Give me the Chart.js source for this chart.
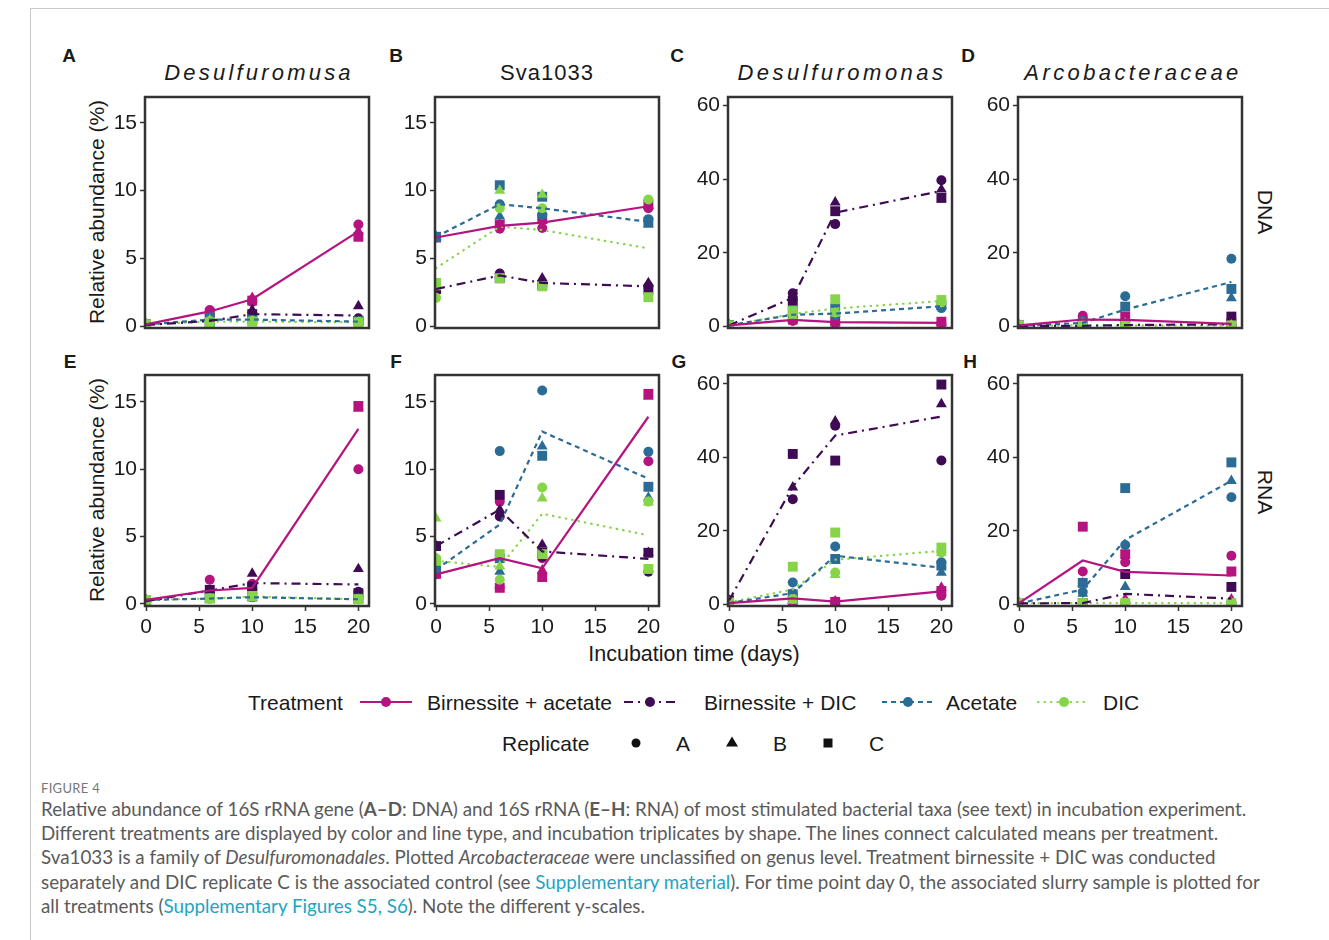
<!DOCTYPE html>
<html>
<head>
<meta charset="utf-8">
<script src="https://cdn.jsdelivr.net/npm/chart.js@4.4.1/dist/chart.umd.min.js"></script>
<style>
  body { margin: 0; background: #fff; }
  #page { position: relative; width: 1329px; height: 940px; overflow: hidden; font-family: "Liberation Sans", Arial, sans-serif; color: #1a1a1a; }
  #frame { position: absolute; left: 30px; top: 8px; width: 1299px; height: 940px; border-top: 1px solid #c8c8c8; border-left: 1px solid #c8c8c8; }
  canvas { position: absolute; }
  .t { position: absolute; white-space: nowrap; line-height: 1; }
  .c { transform: translate(-50%, -50%); }
  .l { transform: translate(0, -50%); }
  .letter { font-weight: bold; font-size: 19px; }
  .ttl { font-size: 22px; font-style: italic; }
  .ylab { font-size: 21px; transform: translate(-50%, -50%) rotate(-90deg); }
  .row { font-size: 21px; writing-mode: vertical-rl; transform: translate(-50%, -50%); }
  .leg { font-size: 21px; }
  .cap { position: absolute; left: 41px; font-family: Lato, "Open Sans", sans-serif; color: #5a5a5a; white-space: nowrap; }
  .cap a { color: #22a4c4; text-decoration: none; }
  svg { position: absolute; }
</style>
</head>
<body>
<div id="page">
  <div id="frame"></div>

  <div class="t c letter" style="left:69px;top:55px">A</div>
  <div class="t c letter" style="left:396px;top:55px">B</div>
  <div class="t c letter" style="left:677px;top:55px">C</div>
  <div class="t c letter" style="left:968px;top:55px">D</div>
  <div class="t c letter" style="left:70px;top:361px">E</div>
  <div class="t c letter" style="left:396px;top:361px">F</div>
  <div class="t c letter" style="left:679px;top:361px">G</div>
  <div class="t c letter" style="left:970px;top:361px">H</div>

  <div class="t c ttl" style="left:259px;top:73px;letter-spacing:3.2px">Desulfuromusa</div>
  <div class="t c ttl" style="left:547px;top:73px;font-style:normal;letter-spacing:1px">Sva1033</div>
  <div class="t c ttl" style="left:842px;top:73px;letter-spacing:3.5px">Desulfuromonas</div>
  <div class="t c ttl" style="left:1133px;top:73px;letter-spacing:3.4px">Arcobacteraceae</div>

  <div class="t ylab" style="left:96px;top:212px">Relative abundance (%)</div>
  <div class="t ylab" style="left:96px;top:490px">Relative abundance (%)</div>
  <div class="t row" style="left:1265px;top:212px">DNA</div>
  <div class="t row" style="left:1265px;top:492px">RNA</div>
  <div class="t c" style="left:694px;top:655px;font-size:21.5px">Incubation time (days)</div>

  <div class="t l leg" style="left:248px;top:702px">Treatment</div>
  <div class="t l leg" style="left:427px;top:702px">Birnessite + acetate</div>
  <div class="t l leg" style="left:704px;top:702px">Birnessite + DIC</div>
  <div class="t l leg" style="left:946px;top:702px">Acetate</div>
  <div class="t l leg" style="left:1103px;top:702px">DIC</div>
  <div class="t l leg" style="left:502px;top:743px">Replicate</div>
  <div class="t l leg" style="left:676px;top:743px">A</div>
  <div class="t l leg" style="left:773px;top:743px">B</div>
  <div class="t l leg" style="left:869px;top:743px">C</div>
  <div id="legsym"></div>

  <div class="cap" style="top:780px;font-size:13px;color:#777;letter-spacing:0.3px">FIGURE 4</div>
  <div class="cap" style="top:797px;font-size:18.8px;line-height:24.2px">
    Relative abundance of 16S rRNA gene (<b>A–D</b>: DNA) and 16S rRNA (<b>E–H</b>: RNA) of most stimulated bacterial taxa (see text) in incubation experiment.<br>
    Different treatments are displayed by color and line type, and incubation triplicates by shape. The lines connect calculated means per treatment.<br>
    Sva1033 is a family of <i>Desulfuromonadales</i>. Plotted <i>Arcobacteraceae</i> were unclassified on genus level. Treatment birnessite + DIC was conducted<br>
    separately and DIC replicate C is the associated control (see <a>Supplementary material</a>). For time point day 0, the associated slurry sample is plotted for<br>
    all treatments (<a>Supplementary Figures S5, S6</a>). Note the different y-scales.
  </div>
</div>

<script>
// incubation days, treatments, replicates
const days = [0, 6, 10, 20]
const treatments = ['Birnessite + acetate', 'Birnessite + DIC', 'Acetate', 'DIC']
const replicates = ['A', 'B', 'C']
const xTicks = [0, 5, 10, 15, 20]
const yTicksLow = [0, 5, 10, 15]
const yTicksHigh = [0, 20, 40, 60]

// means per treatment (rows: treatments, cols: days)
const meansA = [[0.15, 1.1, 2.0, 7.0], [0.1, 0.4, 0.9, 0.8], [0.15, 0.5, 0.5, 0.35], [0.15, 0.35, 0.35, 0.3]]
const meansB = [[6.55, 7.4, 7.65, 8.85], [2.75, 3.75, 3.2, 2.95], [6.6, 9.0, 8.7, 7.7], [4.3, 7.35, 7.1, 5.75]]
const meansC = [[0.3, 1.8, 1.2, 1.0], [0.3, 7.8, 30.9, 36.8], [0.3, 3.2, 3.5, 5.5], [0.3, 3.4, 4.9, 6.9]]
const meansD = [[0.3, 1.9, 1.8, 0.7], [0.2, 0.2, 0.4, 0.6], [0.2, 1.0, 4.6, 12.1], [0.3, 0.3, 0.3, 0.3]]
const meansE = [[0.3, 1.0, 1.2, 13.0], [0.2, 1.0, 1.55, 1.45], [0.3, 0.4, 0.5, 0.35], [0.3, 0.4, 0.55, 0.35]]
const meansF = [[2.2, 3.4, 2.65, 13.9], [4.3, 7.0, 3.9, 3.35], [2.55, 5.9, 12.8, 9.3], [3.2, 2.75, 6.7, 5.1]]
const meansG = [[0.3, 1.6, 0.7, 3.5], [1.0, 32, 45.9, 51.1], [0.3, 3.0, 13.2, 9.9], [0.5, 4.0, 12.1, 14.5]]
const meansH = [[0.3, 11.9, 8.8, 7.8], [0.2, 0.3, 2.8, 1.5], [0.2, 4.0, 17.5, 33.6], [0.3, 0.3, 0.3, 0.3]]

// replicate values per treatment: [A, B, C], each over days
const repsA = [
    [[0.15, 1.2, 1.8, 7.5], [0.15, 1.1, 2.1, 7.0], [0.15, 1.0, 1.9, 6.6]],
    [[0.1, 0.4, 0.6, 0.6], [0.1, 0.5, 1.2, 1.5], [0.1, 0.3, 0.9, 0.4]],
    [[0.15, 0.8, 0.5, 0.35], [0.15, 0.5, 0.45, 0.3], [0.15, 0.3, 0.5, 0.4]],
    [[0.15, 0.4, 0.4, 0.3], [0.15, 0.45, 0.45, 0.3], [0.15, 0.3, 0.35, 0.3]]
]
const repsB = [
    [[6.55, 7.2, 7.25, 8.7], [6.55, 7.5, 7.8, 8.9], [6.55, 7.5, 7.9, 9.0]],
    [[2.75, 3.9, 3.0, 2.95], [2.75, 3.8, 3.55, 3.2], [2.75, 3.55, 3.05, 2.7]],
    [[6.6, 9.0, 8.2, 7.9], [6.6, 8.1, 8.5, 7.5], [6.6, 10.4, 9.55, 7.7]],
    [[2.1, 8.7, 8.7, 9.35], [2.9, 10.0, 9.7, null], [3.2, 3.55, 2.95, 2.15]]
]
const repsC = [
    [[0.3, 1.5, 1.0, 0.8], [0.3, 2.0, 1.2, 1.0], [0.3, 1.9, 1.3, 1.3]],
    [[0.3, 9.0, 27.8, 39.7], [0.3, 8.0, 33.7, 37.2], [0.3, 7.0, 31.3, 34.9]],
    [[0.3, 3.0, 3.0, 5.0], [0.3, 2.5, 3.5, 5.5], [0.3, 4.5, 5.0, 5.9]],
    [[0.3, 3.3, 3.8, 6.5], [0.3, 2.7, 3.6, 6.8], [0.3, 4.2, 7.4, 7.2]]
]
const repsD = [
    [[0.3, 2.9, 1.5, 0.6], [0.3, 1.5, 1.2, 0.5], [0.3, 1.3, 2.7, 1.0]],
    [[0.2, 0.2, 0.3, 0.3], [0.2, 0.2, 0.4, 0.4], [0.2, 0.3, 0.5, 2.7]],
    [[0.2, 1.5, 8.2, 18.4], [0.2, 0.8, 0.3, 7.7], [0.2, 0.7, 5.4, 10.2]],
    [[0.3, 0.3, 0.3, 0.3], [0.3, 0.8, 0.8, 0.3], [0.3, 0.3, 0.4, 0.3]]
]
const repsE = [
    [[0.3, 1.8, 1.5, 10.0], [0.3, 0.6, 1.0, 14.5], [0.3, 0.7, 1.2, 14.7]],
    [[0.2, 0.9, 1.1, 0.9], [0.2, 1.0, 2.25, 2.6], [0.2, 1.05, 1.3, 0.8]],
    [[0.3, 0.4, 0.5, 0.35], [0.3, 0.35, 0.45, 0.3], [0.3, 0.45, 0.55, 0.4]],
    [[0.3, 0.4, 0.55, 0.35], [0.3, 0.35, 0.5, 0.3], [0.3, 0.4, 0.6, 0.35]]
]
const repsF = [
    [[2.2, 7.6, 3.4, 10.6], [2.1, 1.4, 2.5, 15.4], [2.3, 1.2, 2.0, 15.6]],
    [[4.3, 6.5, 3.5, 2.4], [4.3, 7.0, 4.4, 3.8], [4.3, 8.1, 3.8, 3.8]],
    [[2.55, 11.35, 15.85, 11.3], [2.55, 2.4, 11.7, 7.9], [2.55, 3.4, 11.0, 8.7]],
    [[3.4, 1.8, 8.65, 7.6], [6.35, 2.8, 7.85, 7.55], [3.2, 3.7, 3.7, 2.6]]
]
const repsG = [
    [[0.3, 2.9, 0.7, 2.3], [0.3, 1.0, 0.8, 4.5], [0.3, 1.0, 0.6, 3.6]],
    [[1.0, 28.6, 48.6, 39.1], [1.0, 31.8, 49.8, 54.5], [1.0, 40.9, 39.1, 59.8]],
    [[0.3, 5.9, 15.7, 11.4], [0.3, 0.9, 11.8, 8.6], [0.3, 2.7, 12.3, 10.5]],
    [[0.5, 1.5, 8.6, 14.1], [0.5, 1.0, 8.0, 14.0], [0.5, 10.2, 19.5, 15.4]]
]
const repsH = [
    [[0.3, 8.9, 11.4, 13.2], [0.3, 5.7, 1.4, 1.3], [0.3, 21.1, 13.6, 8.9]],
    [[0.2, 0.3, 0.2, 0.1], [0.2, 0.3, 0.2, 0.1], [0.2, 0.3, 8.2, 4.7]],
    [[0.2, 3.3, 16.1, 29.1], [0.2, 2.9, 4.7, 33.6], [0.2, 5.8, 31.6, 38.6]],
    [[0.3, 0.3, 0.3, 0.3], [0.3, 0.3, 0.3, 0.3], [0.3, 0.3, 0.3, 0.3]]
]

// styles
const colors = ['#b5137f', '#3e0b54', '#2b6c96', '#86d44a']
const dashes = [[], [9, 5, 2, 5], [5, 4], [0.5, 6]]
const shapes = ['circle', 'triangle', 'rect']
const shapeRadius = [5, 6.3, 7]

Chart.defaults.font.family = '"Liberation Sans", Arial, sans-serif'
Chart.defaults.color = '#1a1a1a'

let framePlugin = {
    id: 'frame',
    afterDraw: (chart) => {
        let a = chart.chartArea
        let ctx = chart.ctx
        ctx.save()
        ctx.strokeStyle = '#333'
        ctx.lineWidth = 2.5
        ctx.strokeRect(a.left, a.top, a.right - a.left, a.bottom - a.top)
        ctx.restore()
    }
}

let panels = [
    {means: meansA, reps: repsA, col: 0, row: 0, ticks: yTicksLow, min: -0.12, max: 16.9},
    {means: meansB, reps: repsB, col: 1, row: 0, ticks: yTicksLow, min: -0.12, max: 16.9},
    {means: meansC, reps: repsC, col: 2, row: 0, ticks: yTicksHigh, min: -0.4, max: 62.3},
    {means: meansD, reps: repsD, col: 3, row: 0, ticks: yTicksHigh, min: -0.4, max: 62.3},
    {means: meansE, reps: repsE, col: 0, row: 1, ticks: yTicksLow, min: -0.15, max: 17},
    {means: meansF, reps: repsF, col: 1, row: 1, ticks: yTicksLow, min: -0.15, max: 17},
    {means: meansG, reps: repsG, col: 2, row: 1, ticks: yTicksHigh, min: -0.5, max: 62.4},
    {means: meansH, reps: repsH, col: 3, row: 1, ticks: yTicksHigh, min: -0.5, max: 62.4}
]

const boxLeft = [145, 435, 728, 1018]
const boxTop = [97, 375]
const boxW = 224, boxH = 231, axisW = 70, pad = 10, axisH = 40

let noPad = (s) => {
    s.paddingTop = 0
    s.paddingBottom = 0
    s.paddingLeft = 0
    s.paddingRight = 0
}

let makePanel = (p) => {
    let canvas = document.createElement('canvas')
    let w = axisW + boxW + pad
    let h = pad + boxH + (p.row == 1 ? axisH : pad)
    canvas.width = w
    canvas.height = h
    canvas.style.left = (boxLeft[p.col] - axisW) + 'px'
    canvas.style.top = (boxTop[p.row] - pad) + 'px'
    canvas.style.width = w + 'px'
    canvas.style.height = h + 'px'
    document.getElementById('page').appendChild(canvas)

    let datasets = []
    p.means.forEach((m, t) => {
        datasets.push({
            label: treatments[t] + ' mean',
            data: days.map((d, i) => ({x: d, y: m[i]})),
            showLine: true,
            borderColor: colors[t],
            borderWidth: 2.2,
            borderDash: dashes[t],
            borderCapStyle: t == 3 ? 'round' : 'butt',
            pointRadius: 0,
            order: 1
        })
    })
    p.reps.forEach((reps, t) => {
        reps.forEach((vals, r) => {
            datasets.push({
                label: treatments[t] + ' ' + replicates[r],
                data: days.map((d, i) => ({x: d, y: vals[i]})).filter(pt => pt.y !== null),
                showLine: false,
                pointStyle: shapes[r],
                pointRadius: shapeRadius[r],
                backgroundColor: colors[t],
                borderColor: colors[t],
                borderWidth: 0,
                order: 10 - t
            })
        })
    })

    new Chart(canvas.getContext('2d'), {
        type: 'scatter',
        data: {datasets: datasets},
        options: {
            responsive: false,
            animation: false,
            layout: {padding: {left: 0, top: pad, right: pad, bottom: p.row == 1 ? 0 : pad}},
            plugins: {legend: {display: false}, tooltip: {enabled: false}},
            scales: {
                x: {
                    type: 'linear',
                    min: -0.1,
                    max: 21,
                    display: p.row == 1,
                    afterBuildTicks: s => { s.ticks = xTicks.map(v => ({value: v})) },
                    afterFit: s => { s.height = p.row == 1 ? axisH : 0; noPad(s) },
                    ticks: {font: {size: 21}, color: '#1a1a1a', padding: 4, maxRotation: 0},
                    grid: {drawOnChartArea: false, drawTicks: true, tickLength: 5, tickColor: '#333', tickWidth: 1.5},
                    border: {display: false}
                },
                y: {
                    type: 'linear',
                    min: p.min,
                    max: p.max,
                    afterBuildTicks: s => { s.ticks = p.ticks.map(v => ({value: v})) },
                    afterFit: s => { s.width = axisW; noPad(s) },
                    ticks: {font: {size: 21}, color: '#1a1a1a', padding: 3},
                    grid: {drawOnChartArea: false, drawTicks: true, tickLength: 5, tickColor: '#333', tickWidth: 1.5},
                    border: {display: false}
                }
            }
        },
        plugins: [framePlugin]
    })
}

panels.forEach(p => makePanel(p))

// legend symbols
let legendSymbols = () => {
    let holder = document.getElementById('legsym')
    let lineX = [360, 624, 882, 1038]
    let svg = '<svg style="left:0;top:0" width="1329" height="780">'
    lineX.forEach((x, t) => {
        let dash = dashes[t].length ? dashes[t].join(',') : 'none'
        let cap = t == 3 ? 'round' : 'butt'
        svg += '<line x1="' + x + '" y1="702" x2="' + (x + 52) + '" y2="702" stroke="' + colors[t] +
            '" stroke-width="2.2" stroke-dasharray="' + dash + '" stroke-linecap="' + cap + '"/>'
        svg += '<circle cx="' + (x + 26) + '" cy="702" r="5" fill="' + colors[t] + '"/>'
    })
    svg += '<circle cx="636" cy="743" r="4.5" fill="#111"/>'
    svg += '<polygon points="732,736.5 738,746.5 726,746.5" fill="#111"/>'
    svg += '<rect x="823.5" y="738.5" width="9" height="9" fill="#111"/>'
    svg += '</svg>'
    holder.innerHTML = svg
}
legendSymbols()
</script>
</body>
</html>
